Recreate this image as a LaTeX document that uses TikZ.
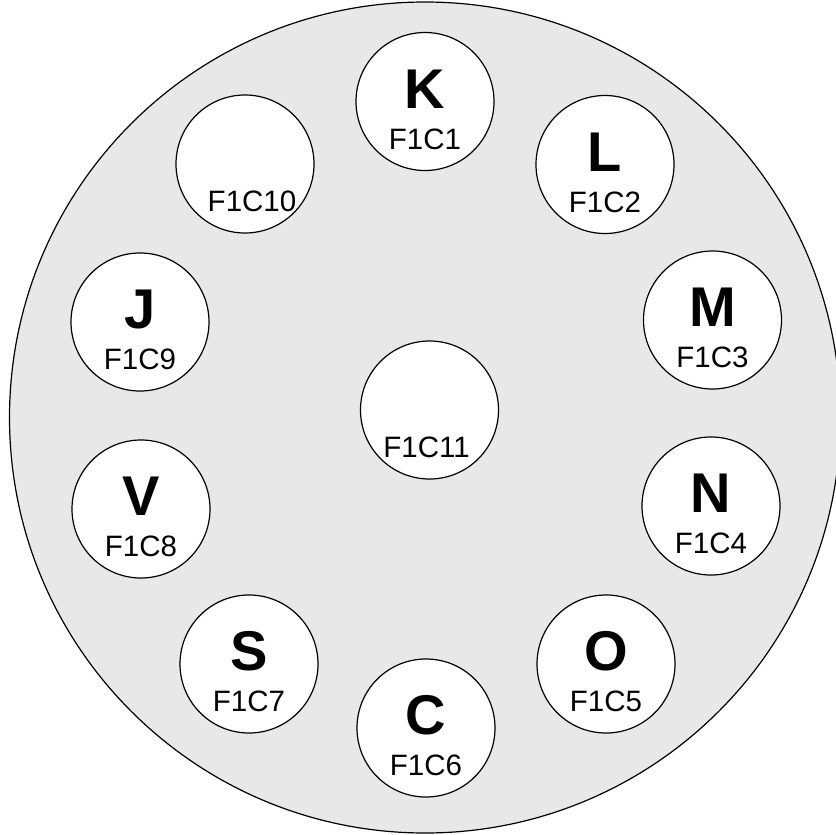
\documentclass[tikz,border=0pt]{standalone}
\usepackage{fontspec}
\setmainfont{Liberation Sans}
\usetikzlibrary{calc}

\begin{document}
\begin{tikzpicture}[x=1pt,y=-1pt]
              \useasboundingbox (0,0) rectangle (836,835);
              \fill[black!9,draw=black,line width=1.2pt](425,417.5)circle(415.5);
              \foreach \n/\x/\y/\l/\dx in {1/425/101.5/K/0, 2/605/164.5/L/0, 3/712.5/320/M/0, 4/711/506/N/0, 5/606/664/O/0, 6/426/728/C/0, 7/249/664/S/0, 8/141/509/V/0, 9/140/322/J/0, 10/245/164/{}/7, 11/429.5/410/{}/-3}
              {
                \node[circle,draw,fill=white,line width=1.2pt,minimum size=138pt,inner sep=0pt](c\n)at(\x,\y){};
                \node[anchor=base,inner sep=0pt,font=\fontsize{56}{56}\selectfont\bfseries](l\n)at($(c\n)+(0,6.5)$){\l};
                \node[anchor=base,inner sep=0pt,font=\fontsize{29.5}{29.5}\selectfont](t\n)at($(c\n)+(\dx,47.5)$){F1C\n};
              }
            \end{tikzpicture}
\end{document}
